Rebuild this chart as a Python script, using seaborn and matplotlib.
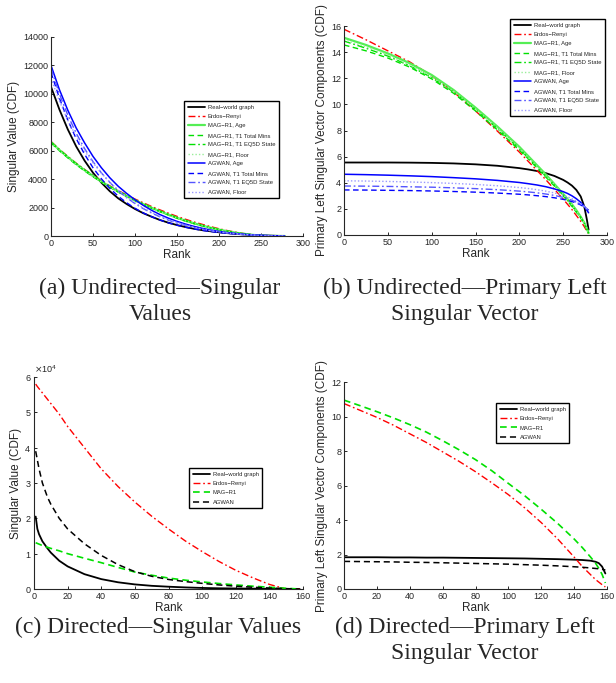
import matplotlib
matplotlib.use("Agg")
import matplotlib.pyplot as plt
import seaborn as sns
import pandas as pd

# ---------------- data ----------------
# (a) Undirected - singular values
ranks_a = [0, 10, 20, 30, 40, 50, 60, 70, 80, 90, 100, 110, 120, 130, 140, 150, 160,
           170, 180, 190, 200, 210, 220, 230, 240, 250, 260, 270, 278]
real_a = [10500, 8900, 7500, 6300, 5300, 4450, 3750, 3150, 2650, 2250, 1900, 1600, 1350, 1120,
          930, 770, 630, 510, 410, 330, 260, 200, 150, 110, 75, 45, 25, 10, 0]
er_a = [6650, 6100, 5600, 5120, 4680, 4270, 3880, 3530, 3200, 2890, 2600, 2330, 2070, 1830,
        1600, 1380, 1180, 990, 820, 660, 510, 380, 270, 170, 95, 40, 10, 2, 0]
mag_age_a = [6600, 6050, 5550, 5070, 4630, 4220, 3830, 3470, 3130, 2820, 2520, 2240, 1980, 1730,
             1500, 1280, 1080, 900, 730, 580, 450, 330, 230, 150, 80, 35, 10, 2, 0]
mag_tm_a = [6550, 6000, 5500, 5020, 4580, 4170, 3790, 3430, 3090, 2780, 2480, 2200, 1940, 1700,
            1470, 1250, 1050, 870, 710, 560, 430, 320, 220, 140, 75, 30, 8, 2, 0]
mag_eq_a = [6620, 6070, 5570, 5090, 4650, 4240, 3850, 3490, 3150, 2840, 2540, 2260, 2000, 1750,
            1520, 1300, 1100, 910, 740, 590, 460, 340, 235, 150, 80, 35, 10, 2, 0]
mag_fl_a = [6580, 6030, 5530, 5050, 4610, 4200, 3810, 3450, 3110, 2800, 2500, 2220, 1960, 1720,
            1490, 1270, 1070, 890, 720, 570, 440, 325, 225, 145, 78, 32, 9, 2, 0]
ag_age_a = [12000, 10300, 8850, 7600, 6550, 5600, 4800, 4100, 3500, 3000, 2550, 2150, 1800, 1500,
            1250, 1030, 840, 680, 540, 420, 320, 240, 175, 120, 80, 50, 28, 12, 0]
ag_tm_a = [11500, 9700, 8150, 6850, 5750, 4800, 4020, 3360, 2800, 2340, 1950, 1620, 1350, 1120,
           920, 760, 620, 500, 400, 315, 245, 185, 135, 95, 62, 38, 20, 8, 0]
ag_eq_a = [11800, 10000, 8500, 7230, 6150, 5230, 4440, 3770, 3190, 2700, 2280, 1920, 1610, 1340,
           1110, 910, 740, 600, 475, 370, 285, 215, 155, 105, 70, 42, 22, 9, 0]
ag_fl_a = [11100, 9500, 8150, 7000, 6000, 5150, 4420, 3780, 3230, 2750, 2330, 1970, 1660, 1390,
           1150, 950, 770, 620, 490, 380, 290, 215, 155, 105, 68, 40, 22, 9, 0]

# (b) Undirected - primary left singular vector
ranks_b = [0, 25, 50, 75, 100, 125, 150, 175, 200, 210, 220, 230, 240, 250, 255, 260, 265,
           270, 274, 277, 279]
real_b = [5.55, 5.55, 5.55, 5.54, 5.52, 5.48, 5.41, 5.30, 5.12, 5.02, 4.90, 4.74, 4.52, 4.22,
          4.02, 3.78, 3.45, 2.95, 2.20, 1.20, 0.40]
er_b = [15.75, 14.95, 14.10, 13.25, 12.20, 10.95, 9.50, 7.95, 6.35, 5.65, 4.95, 4.25, 3.50,
        2.75, 2.35, 1.95, 1.50, 1.05, 0.65, 0.30, 0.10]
mag_age_b = [15.10, 14.55, 13.90, 13.15, 12.25, 11.10, 9.75, 8.30, 6.75, 6.05, 5.35, 4.65,
             3.90, 3.15, 2.75, 2.35, 1.90, 1.40, 0.95, 0.50, 0.15]
mag_tm_b = [14.55, 14.10, 13.55, 12.85, 11.95, 10.85, 9.50, 8.05, 6.50, 5.85, 5.15, 4.45,
            3.75, 3.00, 2.60, 2.20, 1.75, 1.30, 0.85, 0.45, 0.15]
mag_eq_b = [14.85, 14.30, 13.70, 12.95, 12.05, 10.95, 9.60, 8.15, 6.60, 5.90, 5.20, 4.50,
            3.80, 3.05, 2.65, 2.25, 1.80, 1.35, 0.90, 0.45, 0.15]
mag_fl_b = [14.95, 14.40, 13.80, 13.00, 12.10, 11.00, 9.65, 8.20, 6.65, 5.95, 5.25, 4.55,
            3.85, 3.10, 2.70, 2.30, 1.85, 1.35, 0.90, 0.45, 0.15]
ag_age_b = [4.65, 4.62, 4.58, 4.53, 4.47, 4.39, 4.30, 4.18, 4.02, 3.93, 3.83, 3.70, 3.53,
            3.32, 3.18, 3.00, 2.78, 2.50, 2.20, 1.90, 1.70]
ag_tm_b = [3.45, 3.44, 3.42, 3.40, 3.37, 3.33, 3.28, 3.21, 3.12, 3.07, 3.01, 2.94, 2.85,
           2.73, 2.65, 2.56, 2.45, 2.30, 2.15, 2.00, 1.90]
ag_eq_b = [3.75, 3.74, 3.72, 3.69, 3.66, 3.61, 3.55, 3.47, 3.36, 3.30, 3.23, 3.14, 3.03,
           2.88, 2.78, 2.66, 2.52, 2.35, 2.18, 2.00, 1.90]
ag_fl_b = [4.15, 4.13, 4.10, 4.06, 4.01, 3.95, 3.87, 3.77, 3.63, 3.56, 3.47, 3.36, 3.22,
           3.04, 2.92, 2.78, 2.60, 2.40, 2.20, 2.00, 1.90]

# (c) Directed - singular values
ranks_c = [1, 2, 3, 5, 8, 10, 15, 20, 30, 40, 50, 60, 70, 80, 90, 100, 110, 120, 130, 140,
           150, 158]
real_c = [20500, 17000, 15500, 13500, 11500, 10300, 8000, 6400, 4200, 2800, 1900, 1300, 900,
          650, 450, 300, 200, 150, 100, 50, 20, 0]
er_c = [58000, 57300, 56700, 55500, 53700, 52500, 49500, 46000, 40000, 34000, 29000, 24600,
        20600, 17000, 13600, 10600, 7800, 5300, 3200, 1300, 0, 0]
mag_c = [13100, 12900, 12700, 12300, 11800, 11500, 10800, 10000, 8700, 7450, 6100, 4800,
         3900, 3100, 2500, 2000, 1550, 1150, 800, 500, 200, 0]
ag_c = [39000, 36500, 34000, 30000, 26000, 24000, 20000, 17000, 12800, 9500, 6900, 4900,
        3600, 2700, 2100, 1600, 1150, 800, 500, 280, 100, 0]

# (d) Directed - primary left singular vector
ranks_d = [0, 10, 20, 30, 40, 50, 60, 70, 80, 90, 100, 110, 120, 130, 140, 145, 150, 153,
           155, 157, 158, 159]
real_d = [1.84, 1.84, 1.84, 1.83, 1.83, 1.82, 1.82, 1.81, 1.80, 1.79, 1.78, 1.77, 1.75,
          1.73, 1.70, 1.68, 1.64, 1.58, 1.50, 1.30, 1.10, 0.90]
er_d = [10.75, 10.35, 9.95, 9.50, 9.00, 8.50, 7.95, 7.40, 6.80, 6.15, 5.47, 4.70, 3.85,
        2.90, 1.85, 1.30, 0.83, 0.55, 0.40, 0.25, 0.18, 0.12]
mag_d = [10.95, 10.62, 10.28, 9.92, 9.53, 9.10, 8.60, 8.07, 7.50, 6.85, 6.12, 5.40, 4.62,
         3.80, 2.90, 2.40, 1.85, 1.50, 1.20, 0.85, 0.60, 0.35]
ag_d = [1.60, 1.59, 1.58, 1.57, 1.55, 1.54, 1.52, 1.50, 1.48, 1.46, 1.44, 1.41, 1.38, 1.34,
        1.29, 1.26, 1.22, 1.19, 1.17, 1.14, 1.12, 1.10]

labels_full = ["Real\u2212world graph", "Erdos\u2212Renyi", "MAG\u2212R1, Age",
               "MAG\u2212R1, T1 Total Mins", "MAG\u2212R1, T1 EQ5D State", "MAG\u2212R1, Floor",
               "AGWAN, Age", "AGWAN, T1 Total Mins", "AGWAN, T1 EQ5D State", "AGWAN, Floor"]
labels_short = ["Real\u2212world graph", "Erdos\u2212Renyi", "MAG\u2212R1", "AGWAN"]

captions = ["(a) Undirected\u2014Singular\nValues",
            "(b) Undirected\u2014Primary Left\nSingular Vector",
            "(c) Directed\u2014Singular Values",
            "(d) Directed\u2014Primary Left\nSingular Vector"]

# ---------------- styling ----------------
sns.set_style("ticks")
plt.rcParams["font.family"] = ["Liberation Sans", "DejaVu Sans"]
plt.rcParams["xtick.direction"] = "in"
plt.rcParams["ytick.direction"] = "in"
plt.rcParams["xtick.major.size"] = 2.5
plt.rcParams["ytick.major.size"] = 2.5
plt.rcParams["axes.linewidth"] = 0.8

GREEN = "#00e000"
BLUE = "#0000ff"
RED = "#ff0000"

DASHDOT = (0, (5, 2, 1.2, 2))
DASHED = (0, (4, 2.5))
DOTTED = (0, (1, 1.5))

styles_full = [
    dict(color="black", linestyle="-", linewidth=1.3),
    dict(color=RED, linestyle=DASHDOT, linewidth=1.0),
    dict(color="#55ee55", linestyle="-", linewidth=1.6),
    dict(color=GREEN, linestyle=DASHED, linewidth=1.0),
    dict(color=GREEN, linestyle=DASHDOT, linewidth=1.0),
    dict(color="#99ee99", linestyle=DOTTED, linewidth=1.0),
    dict(color=BLUE, linestyle="-", linewidth=1.1),
    dict(color=BLUE, linestyle=DASHED, linewidth=1.0),
    dict(color="#5555ff", linestyle=DASHDOT, linewidth=1.0),
    dict(color="#9999ff", linestyle=DOTTED, linewidth=1.0),
]
styles_short = [
    dict(color="black", linestyle="-", linewidth=1.3),
    dict(color=RED, linestyle=DASHDOT, linewidth=1.0),
    dict(color=GREEN, linestyle=DASHED, linewidth=1.2),
    dict(color="black", linestyle=DASHED, linewidth=1.1),
]

W, H = 616, 683
fig = plt.figure(figsize=(W / 100, H / 100), dpi=100)


def axes_px(left, top, right, bottom):
    return fig.add_axes([left / W, 1 - bottom / H, (right - left) / W, (bottom - top) / H])


def draw(ax, x, series, labels, styles):
    for y, lab, st in zip(series, labels, styles):
        df = pd.DataFrame({"Rank": x, "Value": y})
        sns.lineplot(data=df, x="Rank", y="Value", ax=ax, label=lab, **st)


def finish(ax, xlim, ylim, xticks, yticks, ylabel, leg_xy):
    ax.set_xlim(*xlim)
    ax.set_ylim(*ylim)
    ax.set_xticks(xticks)
    ax.set_yticks(yticks)
    ax.tick_params(labelsize=6.5, pad=2, width=0.7)
    ax.set_xlabel("Rank", fontsize=8.5, labelpad=1)
    ax.set_ylabel(ylabel, fontsize=8.5, labelpad=2)
    for s in ["top", "right"]:
        ax.spines[s].set_visible(False)
    leg = ax.legend(loc="upper left", bbox_to_anchor=(leg_xy[0] / W, 1 - leg_xy[1] / H),
                    bbox_transform=fig.transFigure, fontsize=4.2, frameon=True,
                    fancybox=False, framealpha=1, edgecolor="black", borderpad=0.6,
                    labelspacing=0.75, handlelength=3.0, handletextpad=0.5, borderaxespad=0)
    leg.get_frame().set_linewidth(1.0)


# (a)
ax_a = axes_px(51, 37, 303, 236)
draw(ax_a, ranks_a, [real_a, er_a, mag_age_a, mag_tm_a, mag_eq_a, mag_fl_a,
                     ag_age_a, ag_tm_a, ag_eq_a, ag_fl_a], labels_full, styles_full)
finish(ax_a, (0, 300), (0, 14000), range(0, 301, 50), range(0, 14001, 2000),
       "Singular Value (CDF)", (184, 101))

# (b)
ax_b = axes_px(344, 26, 607, 235)
draw(ax_b, ranks_b, [real_b, er_b, mag_age_b, mag_tm_b, mag_eq_b, mag_fl_b,
                     ag_age_b, ag_tm_b, ag_eq_b, ag_fl_b], labels_full, styles_full)
finish(ax_b, (0, 300), (0, 16), range(0, 301, 50), range(0, 17, 2),
       "Primary Left Singular Vector Components (CDF)", (510, 19))

# (c)
ax_c = axes_px(34, 377, 303, 589)
draw(ax_c, ranks_c, [real_c, er_c, mag_c, ag_c], labels_short, styles_short)
finish(ax_c, (0, 160), (0, 60000), range(0, 161, 20), range(0, 60001, 10000),
       "Singular Value (CDF)", (189, 468))
ax_c.ticklabel_format(axis="y", style="sci", scilimits=(4, 4), useMathText=True)
ax_c.yaxis.get_offset_text().set_fontsize(6.5)

# (d)
ax_d = axes_px(344, 382, 607, 589)
draw(ax_d, ranks_d, [real_d, er_d, mag_d, ag_d], labels_short, styles_short)
finish(ax_d, (0, 160), (0, 12), range(0, 161, 20), range(0, 13, 2),
       "Primary Left Singular Vector Components (CDF)", (496, 403))

# captions (top y of first line, in pixels)
cap_pos = [(160, 278), (465, 278), (158, 617), (465, 617)]
for (cx, cy), txt in zip(cap_pos, captions):
    fig.text(cx / W, 1 - cy / H, txt, ha="center", va="top", fontsize=17,
             family="Liberation Serif", linespacing=1.3)

fig.savefig("out.png", dpi=100)
